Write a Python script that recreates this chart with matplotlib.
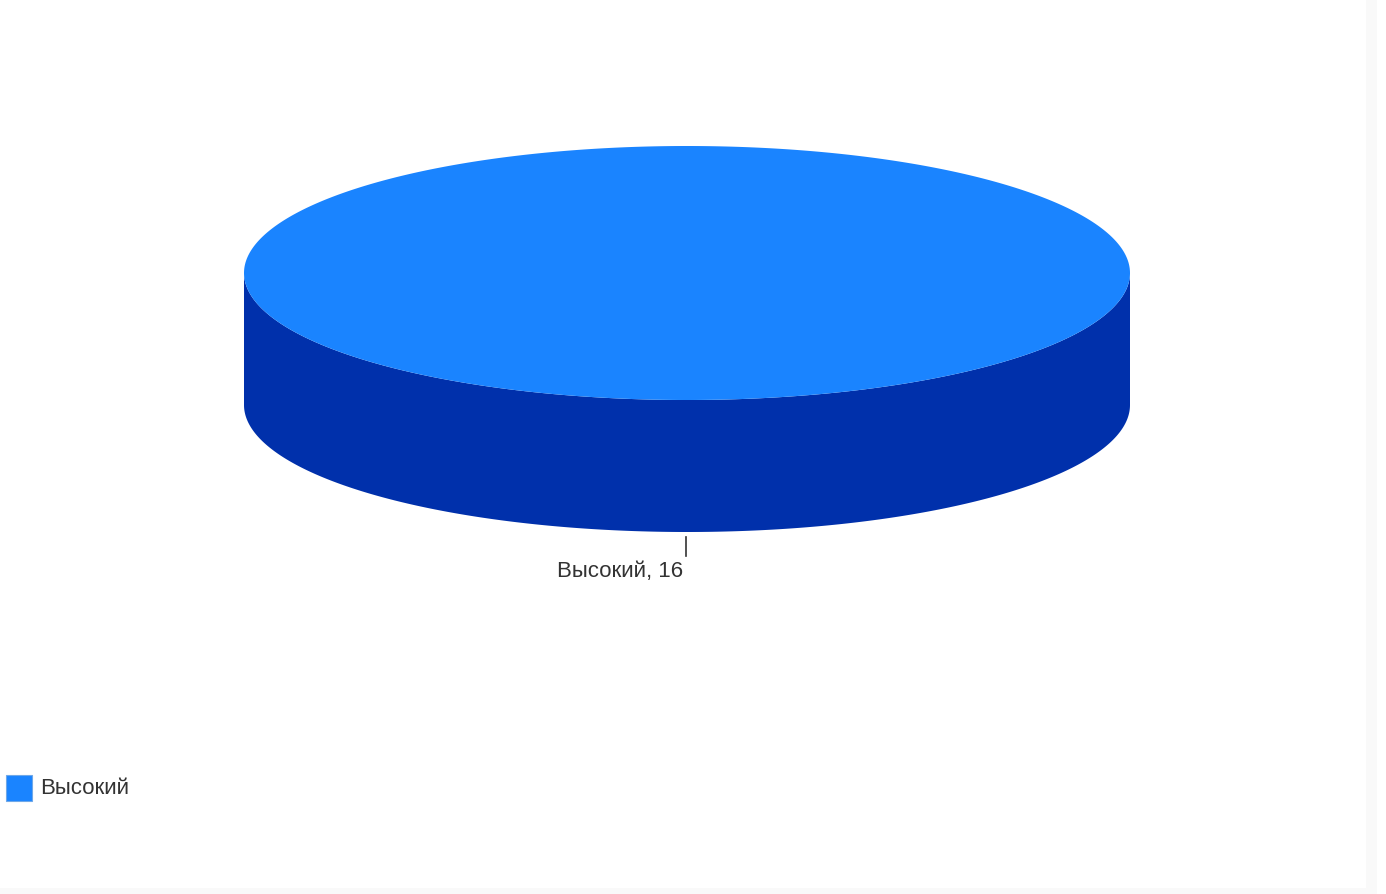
#!/usr/bin/env python3
"""3D-style pie chart with a single category."""

import numpy as np
import matplotlib.pyplot as plt
from matplotlib.patches import Polygon, Rectangle

categories = ["Высокий"]
values = [16]
top_colors = ["#1a84ff"]
side_colors = ["#0030ab"]

W, H = 1386, 894
CX, CY = 687, 273
RX, RY = 443, 127
DEPTH = 132

plt.rcParams["font.family"] = ["Liberation Sans", "DejaVu Sans"]

fig = plt.figure(figsize=(W / 100, H / 100), dpi=100)
ax = fig.add_axes([0, 0, 1, 1])
ax.set_xlim(0, W)
ax.set_ylim(H, 0)
ax.axis("off")


def ellipse_pts(t0, t1, dy=0.0, n=300):
    t = np.linspace(t0, t1, n)
    return np.column_stack([CX + RX * np.cos(t), CY + dy + RY * np.sin(t)])


total = float(sum(values))
start = -np.pi / 2  # screen y points down, so pi/2 is the front
for cat, val, tc, sc in zip(categories, values, top_colors, side_colors):
    sweep = 2 * np.pi * val / total
    t0, t1 = start, start + sweep
    full = sweep >= 2 * np.pi - 1e-9

    # visible side wall: part of the slice that lies in the front half [0, pi]
    segs = [(0.0, np.pi)] if full else []
    if not full:
        for k in (-1, 0, 1):
            s0 = max(t0, 2 * np.pi * k)
            s1 = min(t1, 2 * np.pi * k + np.pi)
            if s1 > s0:
                segs.append((s0, s1))
    for s0, s1 in segs:
        upper = ellipse_pts(s0, s1)
        lower = ellipse_pts(s1, s0, dy=DEPTH)
        ax.add_patch(Polygon(np.vstack([upper, lower]), closed=True,
                             facecolor=sc, edgecolor="none", zorder=2))

    top = ellipse_pts(t0, t1, n=500)
    if not full:
        top = np.vstack([[CX, CY], top])
    ax.add_patch(Polygon(top, closed=True, facecolor=tc, edgecolor="none", zorder=3))

    # label below the front of the slice
    mid = start + sweep / 2
    lx = CX + RX * np.cos(mid) - 1
    ly = CY + DEPTH + RY * np.sin(mid)
    ax.plot([lx, lx], [ly + 5, ly + 24], color="#333333", lw=1.2, zorder=4)
    ax.text(lx - 3, ly + 39, f"{cat}, {val}", ha="right", va="center",
            fontsize=16, color="#333333", zorder=4)
    start = t1

# legend
for i, (cat, tc) in enumerate(zip(categories, top_colors)):
    y = 788 + i * 30
    ax.add_patch(Rectangle((6, y - 13), 26, 26, facecolor=tc,
                           edgecolor="#6fa8e8", lw=0.8, zorder=3))
    ax.text(40, y, cat, ha="left", va="center", fontsize=16, color="#333333")

# faint frame strips at right and bottom
ax.add_patch(Rectangle((1366, 0), 11, H, facecolor="#f9f9f9", edgecolor="none", zorder=0))
ax.add_patch(Rectangle((0, 888), 1377, 6, facecolor="#f9f9f9", edgecolor="none", zorder=0))

fig.savefig("out.png", dpi=100)
